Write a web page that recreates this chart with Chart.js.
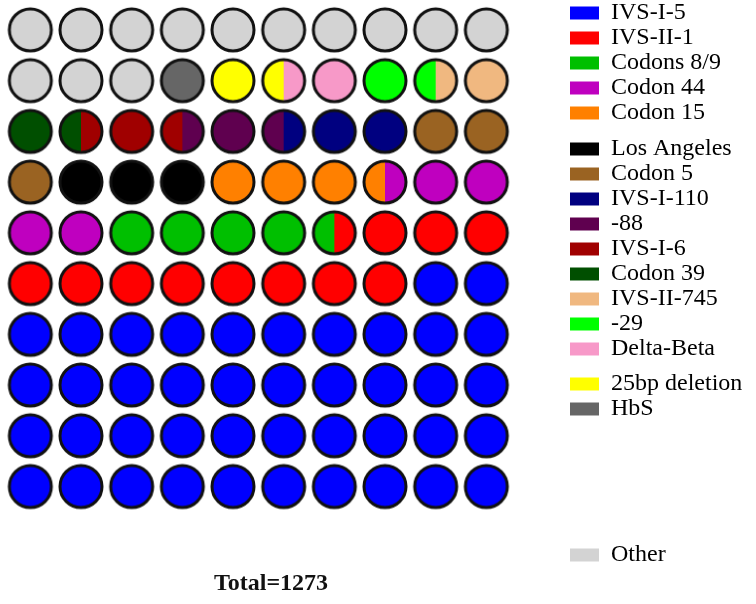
<!DOCTYPE html>
<html>
<head>
<meta charset="utf-8">
<script src="https://cdn.jsdelivr.net/npm/chart.js@4"></script>
<style>
  body { margin: 0; background: #fff; }
</style>
</head>
<body>
<canvas id="waffle" width="756" height="604"></canvas>
<script>
// legend order; the grid fills from the top-left in the reverse order
const categories = ['IVS-I-5', 'IVS-II-1', 'Codons 8/9', 'Codon 44', 'Codon 15', 'Los Angeles',
    'Codon 5', 'IVS-I-110', '-88', 'IVS-I-6', 'Codon 39', 'IVS-II-745', '-29', 'Delta-Beta',
    '25bp deletion', 'HbS', 'Other'];
// number of half circles per category (100 circles = 200 halves)
const halfCircles = [84, 23, 9, 9, 7, 6, 6, 5, 4, 4, 3, 3, 3, 3, 3, 2, 26];
const colors = ['#0000ff', '#ff0000', '#00bf00', '#bf00bf', '#ff8000', '#000000',
    '#9a6322', '#000080', '#5f004f', '#a00000', '#004f00', '#f0b880', '#00ff00', '#f799c8',
    '#ffff00', '#666666', '#d3d3d3'];
const gridCols = 10;
const totalLabel = 'Total=1273';

const serif = "'Liberation Serif', 'Times New Roman', serif";

function circleImage(left, right) {
    const c = document.createElement('canvas');
    c.width = 50;
    c.height = 50;
    const g = c.getContext('2d');
    if (left === right) {
        g.fillStyle = left;
        g.beginPath();
        g.arc(25, 25, 21, 0, Math.PI * 2);
        g.fill();
    } else {
        g.fillStyle = left;
        g.beginPath();
        g.arc(25, 25, 21, Math.PI / 2, Math.PI * 1.5);
        g.closePath();
        g.fill();
        g.fillStyle = right;
        g.beginPath();
        g.arc(25, 25, 21, -Math.PI / 2, Math.PI / 2);
        g.closePath();
        g.fill();
    }
    g.lineWidth = 3;
    g.strokeStyle = '#111';
    g.beginPath();
    g.arc(25, 25, 21, 0, Math.PI * 2);
    g.stroke();
    return c;
}

// lay the halves out in reading order
const halves = [];
for (let i = categories.length - 1; i >= 0; i--) {
    for (let k = 0; k < halfCircles[i]; k++) halves.push(i);
}
const points = [];
const styles = [];
for (let c = 0; c < halves.length / 2; c++) {
    points.push({ x: c % gridCols + 1, y: Math.floor(c / gridCols) + 1 });
    styles.push(circleImage(colors[halves[2 * c]], colors[halves[2 * c + 1]]));
}

// blank legend rows (1px per line) to reproduce the uneven spacing
const clear = 'rgba(0,0,0,0)';
const gap = px => ({ text: Array(px).fill(''), fillStyle: clear, strokeStyle: clear, lineWidth: 0, hidden: false });
const gapsBefore = { 'Los Angeles': 10, '25bp deletion': 9, 'Other': 120 };

function legendItems() {
    const items = [];
    categories.forEach((t, i) => {
        if (gapsBefore[t]) items.push(gap(gapsBefore[t]));
        items.push({ text: t, fillStyle: colors[i], strokeStyle: clear, lineWidth: 0, hidden: false, datasetIndex: 0 });
    });
    return items;
}

Chart.defaults.font.family = serif;
Chart.defaults.color = '#111';

new Chart(document.getElementById('waffle'), {
    type: 'scatter',
    data: {
        datasets: [{
            data: points,
            pointStyle: styles,
            pointRadius: 22,
            pointHoverRadius: 22,
            clip: false
        }]
    },
    options: {
        responsive: false,
        animation: false,
        layout: { autoPadding: false, padding: { left: 5, right: 7, top: 0, bottom: 0 } },
        plugins: {
            tooltip: { enabled: false },
            legend: {
                position: 'right',
                align: 'start',
                maxWidth: 180,
                onClick: null,
                labels: {
                    generateLabels: legendItems,
                    boxWidth: 29,
                    boxHeight: 13,
                    padding: 1,
                    font: { size: 24, family: serif, lineHeight: '1px' },
                    color: '#111'
                }
            },
            title: {
                display: true,
                position: 'bottom',
                fullSize: false,
                text: totalLabel,
                font: { size: 24, weight: 'bold', family: serif },
                color: '#111',
                padding: { top: 0, bottom: 6 }
            }
        },
        scales: {
            x: { type: 'linear', min: 0.5, max: 11, display: false },
            y: {
                type: 'linear',
                position: 'right',
                reverse: true,
                min: 0.41,
                max: 11.63,
                grid: { display: false },
                border: { display: false },
                ticks: { display: false },
                afterFit: s => { s.width = 32; }
            }
        }
    }
});
</script>
</body>
</html>
